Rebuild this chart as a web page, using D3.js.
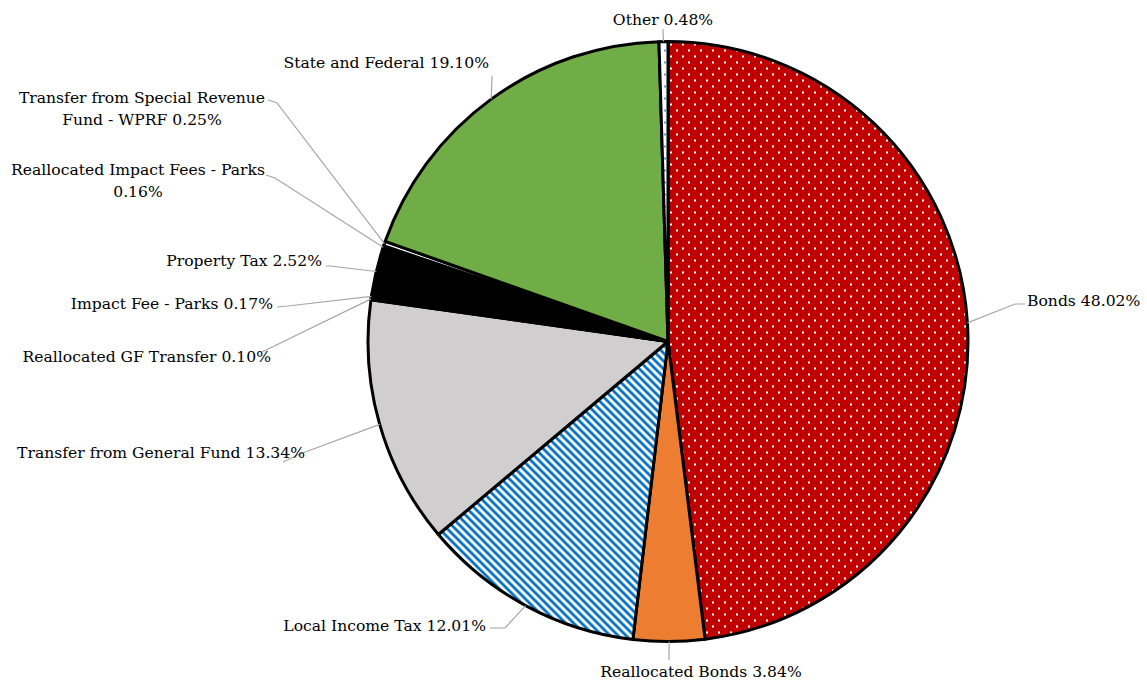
<!DOCTYPE html>
<html>
<head>
<meta charset="utf-8">
<script src="https://cdn.jsdelivr.net/npm/d3@7"></script>
<style>
  body { margin: 0; background: #fff; }
</style>
</head>
<body>
<svg id="chart" width="1147" height="683"></svg>
<script>
// slice order clockwise from 12 o'clock
var categories = [
  "Bonds", "Reallocated Bonds", "Local Income Tax", "Transfer from General Fund",
  "Reallocated GF Transfer", "Impact Fee - Parks", "Property Tax",
  "Reallocated Impact Fees - Parks", "Transfer from Special Revenue Fund - WPRF",
  "State and Federal", "Other"
];
var values = [48.02, 3.84, 12.01, 13.34, 0.10, 0.17, 2.52, 0.16, 0.25, 19.10, 0.48];

// label text lines (as shown in the chart)
var labelLines = [
  ["Bonds 48.02%"],
  ["Reallocated Bonds 3.84%"],
  ["Local Income Tax 12.01%"],
  ["Transfer from General Fund 13.34%"],
  ["Reallocated GF Transfer 0.10%"],
  ["Impact Fee - Parks 0.17%"],
  ["Property Tax 2.52%"],
  ["Reallocated Impact Fees - Parks", "0.16%"],
  ["Transfer from Special Revenue", "Fund - WPRF 0.25%"],
  ["State and Federal 19.10%"],
  ["Other 0.48%"]
];

// label placement: text x/y (first baseline), anchor, leader elbow points
var labelLayout = [
  {x: 1027, y: 306, anchor: "start",  pts: [[1015, 304], [1025, 304]]},
  {x: 701,  y: 677, anchor: "middle", pts: [[669, 660]]},
  {x: 486,  y: 631, anchor: "end",    pts: [[505, 628], [490, 628]]},
  {x: 305,  y: 458, anchor: "end",    pts: [[300, 454], [283, 462]]},
  {x: 271,  y: 362, anchor: "end",    pts: [[262, 352]]},
  {x: 273,  y: 309, anchor: "end",    pts: [[288, 306], [277, 307]]},
  {x: 322,  y: 266, anchor: "end",    pts: [[330, 266], [326, 266]]},
  {x: 138,  y: 175, anchor: "middle", pts: [[275, 178], [266, 175]]},
  {x: 142,  y: 103, anchor: "middle", pts: [[277, 103], [268, 100]]},
  {x: 489,  y: 68,  anchor: "end",    pts: [[492, 76]]},
  {x: 663,  y: 25,  anchor: "middle", pts: [[663, 29]]}
];

var fills = ["url(#redDots)", "#ED7D31", "url(#blueStripes)", "#D0CECE",
             "#000000", "#0d0d0d", "#000000", "#ffffff", "#ffffff", "#70AD47", "url(#blueDots)"];

var cx = 668, cy = 341.5, radius = 300;

var svg = d3.select("#chart");
var defs = svg.append("defs");

var redDots = defs.append("pattern").attr("id", "redDots")
  .attr("patternUnits", "userSpaceOnUse").attr("width", 12).attr("height", 12);
redDots.append("rect").attr("width", 12).attr("height", 12).attr("fill", "#C00000");
redDots.append("rect").attr("x", 2).attr("y", 2).attr("width", 2).attr("height", 2).attr("fill", "#fff");
redDots.append("rect").attr("x", 8).attr("y", 8).attr("width", 2).attr("height", 2).attr("fill", "#fff");

var blueDots = defs.append("pattern").attr("id", "blueDots")
  .attr("patternUnits", "userSpaceOnUse").attr("width", 12).attr("height", 12);
blueDots.append("rect").attr("width", 12).attr("height", 12).attr("fill", "#fff");
blueDots.append("rect").attr("x", 2).attr("y", 2).attr("width", 2).attr("height", 2).attr("fill", "#5B9BD5");
blueDots.append("rect").attr("x", 8).attr("y", 8).attr("width", 2).attr("height", 2).attr("fill", "#5B9BD5");

var stripes = defs.append("pattern").attr("id", "blueStripes")
  .attr("patternUnits", "userSpaceOnUse").attr("width", 8).attr("height", 8);
stripes.append("rect").attr("width", 8).attr("height", 8).attr("fill", "#fff");
stripes.append("path").attr("d", "M-2,-2 L10,10 M-2,6 L2,10 M6,-2 L10,2")
  .attr("stroke", "#0070C0").attr("stroke-width", 2.8);

var pie = d3.pie().sort(null).value(function(d) { return d; });
var arcs = pie(values);
var arc = d3.arc().innerRadius(0).outerRadius(radius);

var g = svg.append("g").attr("transform", "translate(" + cx + "," + cy + ")");

g.selectAll("path.slice")
  .data(arcs)
  .enter().append("path")
    .attr("class", "slice")
    .attr("d", arc)
    .attr("fill", function(d, i) { return fills[i]; })
    .attr("stroke", "#000")
    .attr("stroke-width", 3)
    .attr("stroke-linejoin", "round");

// leader lines from slice edge midpoint
var lineGen = d3.line();
svg.append("g").selectAll("path.leader")
  .data(arcs)
  .enter().append("path")
    .attr("class", "leader")
    .attr("fill", "none")
    .attr("stroke", "#A6A6A6")
    .attr("stroke-width", 1.2)
    .attr("d", function(d, i) {
      var a = (d.startAngle + d.endAngle) / 2;
      var start = [cx + radius * Math.sin(a), cy - radius * Math.cos(a)];
      return lineGen([start].concat(labelLayout[i].pts));
    });

// labels (no Times-like font installed, DejaVu Serif is the closest)
var labels = svg.append("g")
  .style("font-family", "DejaVu Serif")
  .style("font-size", "15.6px")
  .attr("fill", "#000")
  .selectAll("text")
  .data(arcs)
  .enter().append("text")
    .attr("x", function(d, i) { return labelLayout[i].x; })
    .attr("y", function(d, i) { return labelLayout[i].y; })
    .attr("text-anchor", function(d, i) { return labelLayout[i].anchor; });

labels.each(function(d, i) {
  var t = d3.select(this);
  labelLines[i].forEach(function(line, j) {
    t.append("tspan")
      .attr("x", labelLayout[i].x)
      .attr("dy", j === 0 ? 0 : 22)
      .text(line);
  });
});
</script>
</body>
</html>
